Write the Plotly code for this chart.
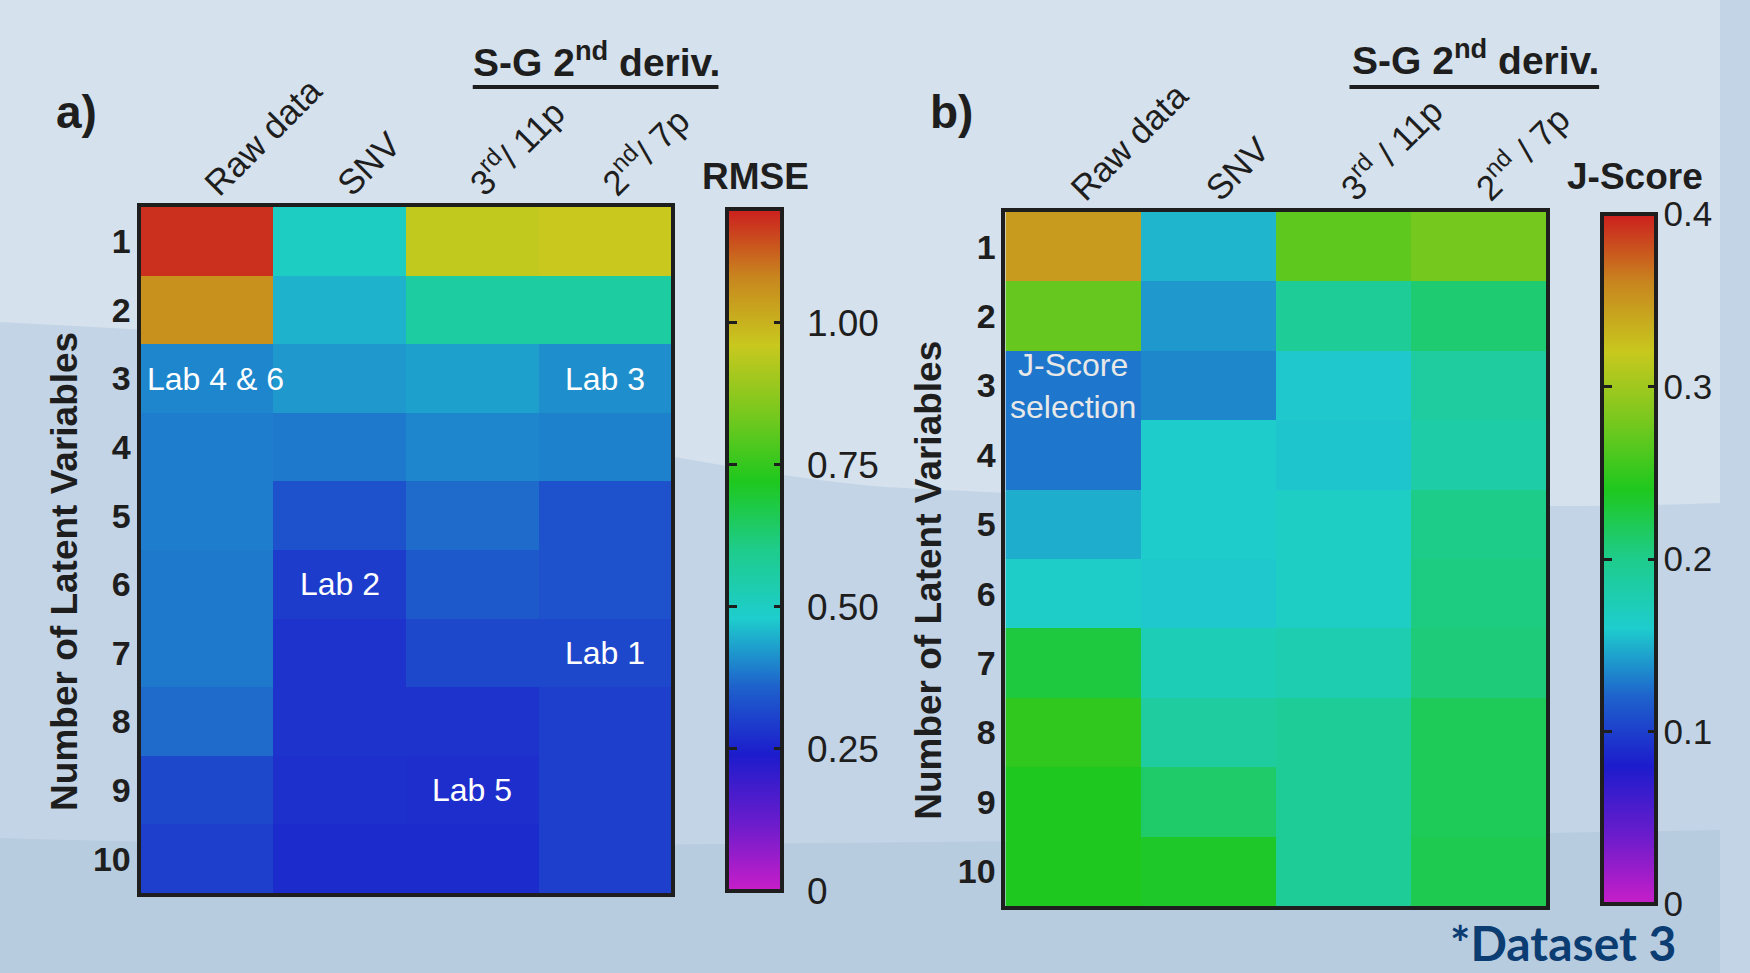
import plotly.graph_objects as go

W, H = 1750, 973

# ---------------- data ----------------
latent_vars = [1, 2, 3, 4, 5, 6, 7, 8, 9, 10]
cols_a = ["Raw data", "SNV", "3<sup>rd</sup>/ 11p", "2<sup>nd</sup>/ 7p"]
cols_b = ["Raw data", "SNV", "3<sup>rd</sup> / 11p", "2<sup>nd</sup> / 7p"]

# RMSE  (columns: Raw data, SNV, 3rd/11p, 2nd/7p)
raw_rmse = [1.18, 1.06, 0.40, 0.39, 0.39, 0.385, 0.385, 0.37, 0.315, 0.30]
snv_rmse = [0.50, 0.45, 0.42, 0.385, 0.33, 0.295, 0.28, 0.28, 0.275, 0.267]
sg3_rmse = [0.95, 0.56, 0.43, 0.40, 0.37, 0.345, 0.315, 0.28, 0.27, 0.267]
sg2_rmse = [0.96, 0.56, 0.41, 0.395, 0.33, 0.33, 0.315, 0.30, 0.30, 0.30]

# J-Score
raw_js = [0.348, 0.272, 0.128, 0.128, 0.148, 0.163, 0.228, 0.248, 0.240, 0.240]
snv_js = [0.151, 0.140, 0.134, 0.161, 0.161, 0.158, 0.175, 0.188, 0.213, 0.236]
sg3_js = [0.269, 0.193, 0.158, 0.157, 0.166, 0.166, 0.178, 0.193, 0.193, 0.193]
sg2_js = [0.278, 0.210, 0.188, 0.183, 0.201, 0.204, 0.207, 0.219, 0.219, 0.222]

rmse_ticks = [0, 0.25, 0.50, 0.75, 1.00]
rmse_ticktext = ["0", "0.25", "0.50", "0.75", "1.00"]
js_ticks = [0, 0.1, 0.2, 0.3, 0.4]
js_ticktext = ["0", "0.1", "0.2", "0.3", "0.4"]

lab_labels = [("Lab 4 & 6", 0, 3), ("Lab 3", 3, 3), ("Lab 2", 1, 6), ("Lab 1", 3, 7), ("Lab 5", 2, 9)]

# ---------------- styling ----------------
FONT = "Liberation Sans, Arial, sans-serif"
DARK = "#1e1e1e"
CS = [
    [0.0, "#c81ec8"], [0.1, "#6a1ccc"], [0.2, "#1c1ccc"], [0.3, "#1e62cc"],
    [0.4, "#1ecdcd"], [0.5, "#1ecc8c"], [0.6, "#1ec81e"], [0.7, "#78c81e"],
    [0.8, "#c8c81e"], [0.9, "#c8861e"], [1.0, "#cc1e1e"],
]
CLEAR = [[0, "rgba(0,0,0,0)"], [1, "rgba(0,0,0,0)"]]


def px(x):
    return x / W


def py(y):
    return 1 - y / H


def rows(*cols):
    return [list(r) for r in zip(*cols)]


z_a = rows(raw_rmse, snv_rmse, sg3_rmse, sg2_rmse)
z_b = rows(raw_js, snv_js, sg3_js, sg2_js)
xs = list(range(len(cols_a)))

# geometry (pixels)
A = dict(x0=143, x1=683, y0=207, y1=893, cb=740, cbw=55, lab_len=18, lab_size=37)
B = dict(x0=1023, x1=1573, y0=212, y1=906, cb=1630, cbw=54, lab_len=0, lab_size=35)

fig = go.Figure()


def add_panel(z, zmax, ticks, ticktext, g, xa, ya, inner_ticks):
    top = g["y0"] + 2
    blen = (g["y1"] - g["y0"]) - 4
    common = dict(z=z, x=xs, y=latent_vars, xaxis=xa, yaxis=ya, zmin=0, zmax=zmax,
                  hoverinfo="skip")
    cb_base = dict(lenmode="pixels", len=blen, y=py(top), yanchor="top", ypad=0,
                   xanchor="left", xpad=0, bgcolor="rgba(0,0,0,0)", borderwidth=0)
    # real bar with inward ticks on its right side
    fig.add_trace(go.Heatmap(**common, colorscale=CS, showscale=True,
                             colorbar=dict(**cb_base, x=px(g["cb"]), thickness=g["cbw"],
                                           outlinewidth=4, outlinecolor=DARK,
                                           ticks="inside", ticklen=10, tickwidth=3, tickcolor=DARK,
                                           tickvals=inner_ticks, showticklabels=False)))
    # left-side inward ticks
    fig.add_trace(go.Heatmap(**common, colorscale=CLEAR, opacity=0, showscale=True,
                             colorbar=dict(**cb_base, x=px(g["cb"] - 2), thickness=2,
                                           outlinewidth=0,
                                           ticks="outside", ticklen=10, tickwidth=3, tickcolor=DARK,
                                           tickvals=inner_ticks, showticklabels=False)))
    # labels
    lab_ticks = dict(ticks="outside", ticklen=g["lab_len"], tickcolor="rgba(0,0,0,0)") \
        if g["lab_len"] > 0 else dict(ticks="")
    fig.add_trace(go.Heatmap(**common, colorscale=CLEAR, opacity=0, showscale=True,
                             colorbar=dict(**cb_base, x=px(g["cb"]), thickness=g["cbw"],
                                           outlinewidth=0, **lab_ticks,
                                           tickvals=ticks, ticktext=ticktext,
                                           tickfont=dict(family=FONT, size=g["lab_size"],
                                                         color=DARK))))


add_panel(z_a, 1.2, rmse_ticks, rmse_ticktext, A, "x", "y", [0.25, 0.5, 0.75, 1.0])
add_panel(z_b, 0.4, js_ticks, js_ticktext, B, "x2", "y2", [0.1, 0.2, 0.3])


def xaxis(g, labels, anchor):
    return dict(domain=[px(g["x0"]), px(g["x1"])], range=[-0.5, 3.5], anchor=anchor,
                side="top", tickvals=xs, ticktext=labels, tickangle=-45, ticks="",
                showgrid=False, zeroline=False, showline=True, mirror=True,
                linewidth=4, linecolor=DARK, ticklabelstandoff=-14,
                tickfont=dict(family=FONT, size=35, color=DARK))


def yaxis(g, anchor):
    return dict(domain=[py(g["y1"]), py(g["y0"])], range=[10.5, 0.5], anchor=anchor,
                tickvals=latent_vars, ticks="", showgrid=False, zeroline=False,
                showline=True, mirror=True, linewidth=4, linecolor=DARK,
                ticklabelstandoff=-1,
                tickfont=dict(family=FONT, size=34, color=DARK, weight="bold"))


annotations = []
for text, cx, cy in lab_labels:
    annotations.append(dict(text=text, x=cx, y=cy, xref="x", yref="y", showarrow=False,
                            xshift=9 if text == "Lab 4 & 6" else 0,
                            font=dict(family=FONT, size=32, color="white")))
annotations.append(dict(text="J-Score<br>selection", x=0, y=3, xref="x2", yref="y2",
                        showarrow=False, font=dict(family=FONT, size=32, color="#e8e8e8")))


def ptext(text, x, y, size, bold=False, angle=0, color=DARK, family=FONT,
          xanchor="center", yanchor="middle"):
    annotations.append(dict(text=text, x=px(x), y=py(y), xref="paper", yref="paper",
                            showarrow=False, textangle=angle, xanchor=xanchor, yanchor=yanchor,
                            borderpad=0,
                            font=dict(family=family, size=size, color=color,
                                      weight="bold" if bold else "normal")))


ptext("a)", 78, 112, 46, bold=True)
ptext("b)", 968, 112, 46, bold=True)
ptext("S-G 2<sup>nd</sup> deriv.", 607, 60, 39, bold=True)
ptext("S-G 2<sup>nd</sup> deriv.", 1501, 58, 39, bold=True)
ptext("RMSE", 769, 176, 37, bold=True)
ptext("J-Score", 1664, 176, 37, bold=True)
ptext("Number of Latent Variables", 65, 571, 37, bold=True, angle=-90)
ptext("Number of Latent Variables", 944, 580, 37, bold=True, angle=-90)
ptext("*Dataset 3", 1474, 972, 48, bold=True, color="#0b3d73",
      family="Lato, Open Sans, sans-serif", xanchor="left", yanchor="bottom")


def path(cmds):
    out = []
    for c in cmds:
        if isinstance(c, str):
            out.append(c)
        else:
            out.append(f"{px(c[0]):.5f},{py(c[1]):.5f}")
    return " ".join(out)


shapes = [
    dict(type="path", xref="paper", yref="paper", layer="below", line=dict(width=0),
         fillcolor="#d5e1ec",
         path=path(["M", (0, 0), "L", (1750, 0), "L", (1750, 503),
                    "C", (1500, 512), (1150, 500), (900, 487),
                    "C", (700, 470), (400, 400), (150, 330), "L", (0, 322), "Z"])),
    dict(type="path", xref="paper", yref="paper", layer="below", line=dict(width=0),
         fillcolor="#b8cce0",
         path=path(["M", (0, 838), "C", (400, 850), (900, 845), (1750, 830),
                    "L", (1750, 973), "L", (0, 973), "Z"])),
    dict(type="line", xref="paper", yref="paper", x0=px(481), x1=px(731), y0=py(87), y1=py(87),
         line=dict(color=DARK, width=4)),
    dict(type="line", xref="paper", yref="paper", x0=px(1373), x1=px(1627), y0=py(87), y1=py(87),
         line=dict(color=DARK, width=4)),
]

fig.update_layout(
    width=W, height=H, margin=dict(l=0, r=0, t=0, b=0),
    paper_bgcolor="#c3d4e6", plot_bgcolor="rgba(0,0,0,0)",
    xaxis=xaxis(A, cols_a, "y"), yaxis=yaxis(A, "x"),
    xaxis2=xaxis(B, cols_b, "y2"), yaxis2=yaxis(B, "x2"),
    annotations=annotations, shapes=shapes, showlegend=False,
    font=dict(family=FONT, color=DARK),
)

post = (
    "document.documentElement.style.margin='0px';"
    "document.body.style.margin='0px';document.body.style.padding='0px';"
)

fig.write_html("out.html", config={"displayModeBar": False}, post_script=post)
